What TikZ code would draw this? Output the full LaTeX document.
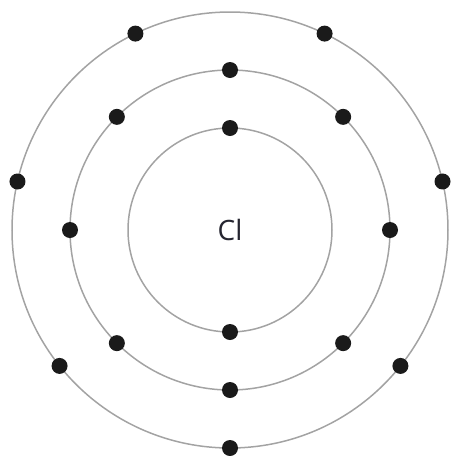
\documentclass[tikz,border=0pt]{standalone}
\usepackage{fontspec}
\setmainfont{Open Sans}
\definecolor{shell}{HTML}{A3A3A3}
\definecolor{dotc}{HTML}{1A1A1A}
\definecolor{txt}{HTML}{252530}
\begin{document}
\begin{tikzpicture}[x=1pt,y=-1pt,
  shellline/.style={draw=shell,line width=1.5pt},
  electron/.style={circle,fill=dotc,inner sep=0pt,minimum size=16pt}]
\useasboundingbox (0,0) rectangle (452,456);
\begin{scope}[shift={(230,230)}]
\node[circle,shellline,minimum size=204pt,inner sep=0pt] (s1) at (0,0) {};
\node[circle,shellline,minimum size=320pt,inner sep=0pt] (s2) at (0,0) {};
\node[circle,shellline,minimum size=436pt,inner sep=0pt] (s3) at (0,0) {};
\node[font=\fontsize{28}{30}\selectfont,text=txt] (cl) at (0,0) {Cl};
% inner shell
\foreach \a [count=\i] in {90,270}
  \node[electron] (i\i) at (\a:102) {};
% middle shell
\foreach \a [count=\i] in {0,45,...,315}
  \node[electron] (m\i) at (\a:160) {};
% outer shell
\foreach \k in {0,...,6}
  \node[electron] (o\k) at ({90+\k*360/7}:218) {};
\end{scope}
\end{tikzpicture}
\end{document}
